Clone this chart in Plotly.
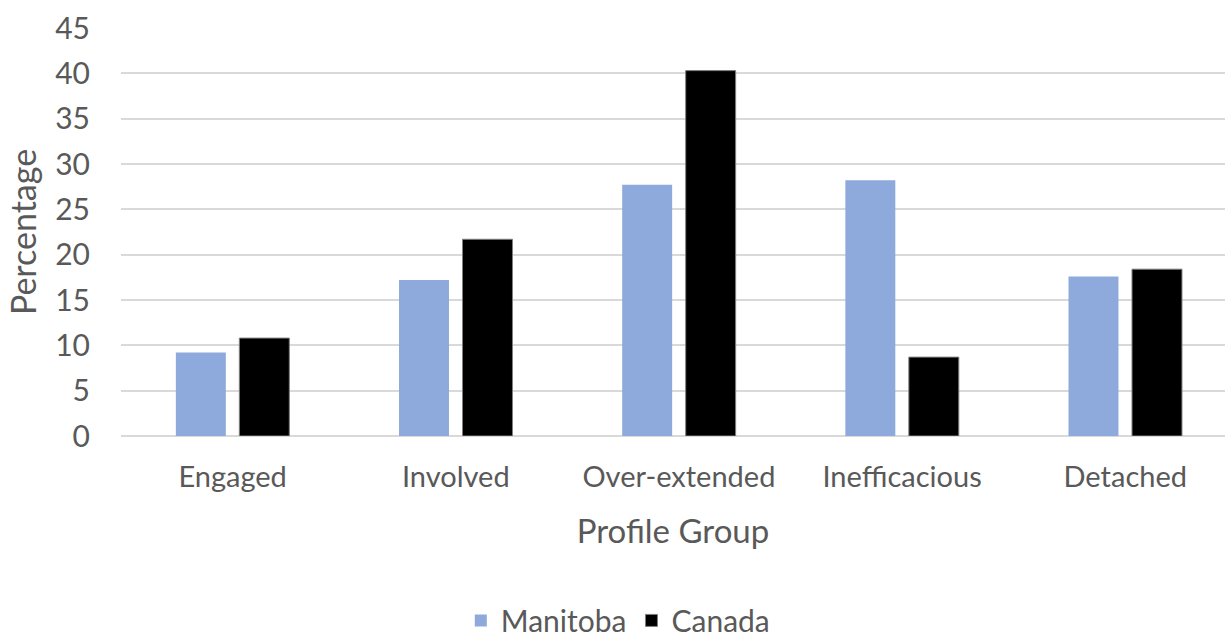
import plotly.graph_objects as go

# Profile groups and the share of respondents in each (percent)
categories = ["Engaged", "Involved", "Over-extended", "Inefficacious", "Detached"]
manitoba = [9.2, 17.2, 27.7, 28.2, 17.6]
canada = [10.8, 21.7, 40.3, 8.7, 18.4]
y_ticks = [0, 5, 10, 15, 20, 25, 30, 35, 40, 45]

TEXT = "#595959"
FONT = "Lato"

fig = go.Figure()
fig.add_trace(go.Bar(
    name="Manitoba", x=categories, y=manitoba,
    marker=dict(color="#8EA9DB", line=dict(width=0)),
))
fig.add_trace(go.Bar(
    name="Canada", x=categories, y=canada,
    marker=dict(color="#000000", line=dict(color="#7f7f7f", width=1)),
))

fig.update_layout(
    width=1225, height=639,
    margin=dict(l=121, r=0, t=28, b=203, autoexpand=False),
    paper_bgcolor="white", plot_bgcolor="white",
    barmode="group", bargap=0.431, bargroupgap=0.213,
    font=dict(family=FONT, color=TEXT, size=29),
    showlegend=True,
    legend=dict(
        orientation="h", x=0.45, xanchor="center", y=-0.452, yanchor="middle",
        font=dict(size=30, color=TEXT), itemwidth=30, tracegroupgap=0,
    ),
)
fig.update_xaxes(
    type="category", range=[-0.5, 4.447], automargin=False,
    showgrid=False, showline=False, zeroline=False, ticks="",
    tickfont=dict(size=29, color=TEXT), ticklabelstandoff=21,
    title=dict(text="Profile Group", font=dict(size=33, color=TEXT), standoff=27),
)
fig.update_yaxes(
    range=[0, 45], tickvals=y_ticks, automargin=False,
    showgrid=True, gridcolor="#d9d9d9", gridwidth=2,
    zeroline=True, zerolinecolor="#d9d9d9", zerolinewidth=2,
    showline=False, ticks="",
    tickfont=dict(size=30, color=TEXT), ticklabelstandoff=30,
    title=dict(text="Percentage", font=dict(size=34, color=TEXT), standoff=8),
)

fig.write_html("out.html")
